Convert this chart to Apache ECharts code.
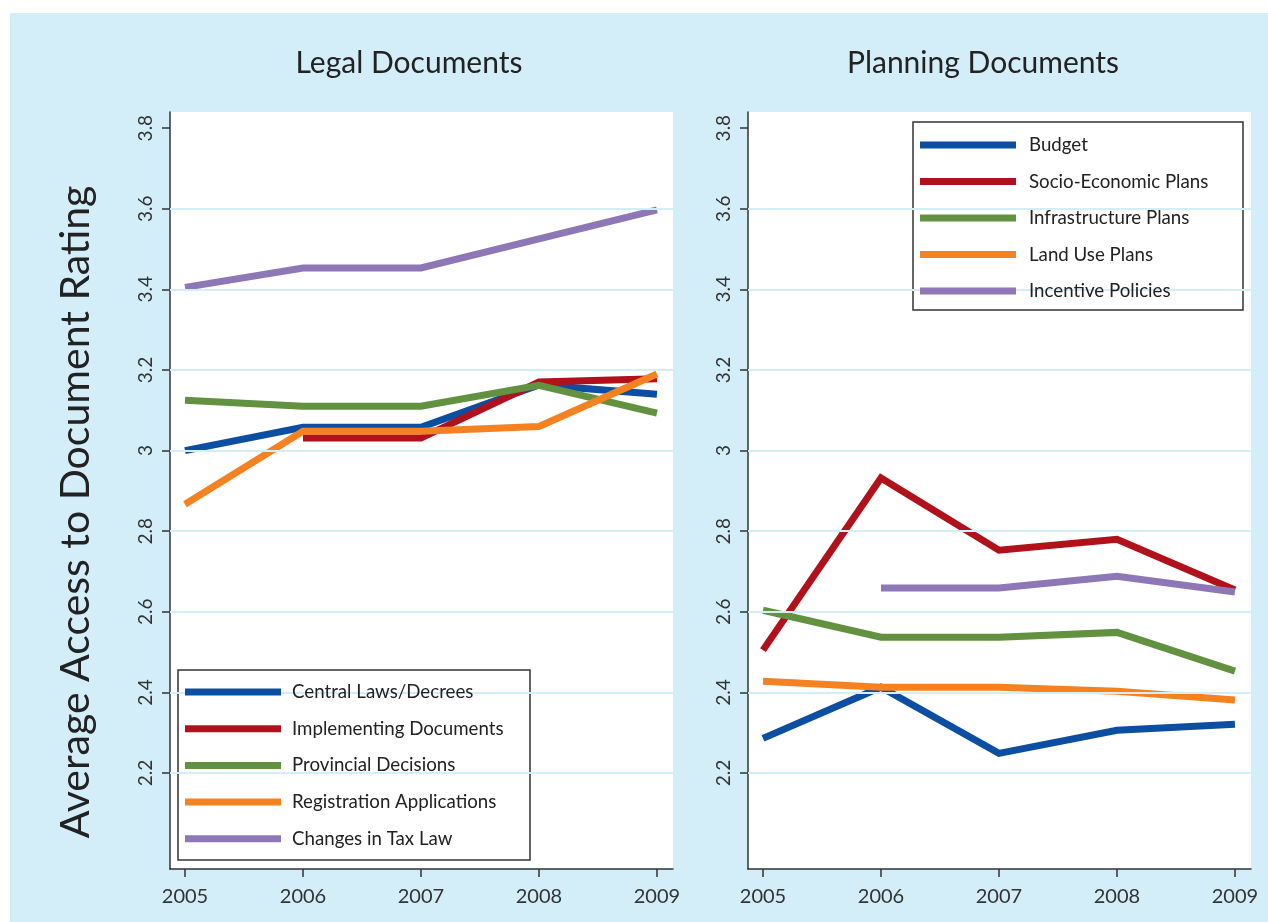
<!DOCTYPE html>
<html>
<head>
<meta charset="utf-8">
<script src="https://cdn.jsdelivr.net/npm/echarts@6/dist/echarts.min.js"></script>
<style>
html,body{margin:0;padding:0;background:#fff;}
#chart{width:1268px;height:922px;}
</style>
</head>
<body>
<div id="chart"></div>
<script>
// ---- data ----
const years = [2005, 2006, 2007, 2008, 2009];
const yTicks = [2.2, 2.4, 2.6, 2.8, 3.0, 3.2, 3.4, 3.6, 3.8];
const gridValues = [2.2, 2.4, 2.6, 2.8, 3.0, 3.2, 3.4, 3.6];

const legalNames = ['Central Laws/Decrees', 'Implementing Documents', 'Provincial Decisions', 'Registration Applications', 'Changes in Tax Law'];
const centralLaws   = [3.00, 3.058, 3.058, 3.163, 3.14];
const implementing  = [null, 3.031, 3.031, 3.17, 3.178];
const provincial    = [3.125, 3.11, 3.11, 3.162, 3.093];
const registration  = [2.867, 3.048, 3.048, 3.06, 3.19];
const taxLaw        = [3.405, 3.453, 3.453, 3.525, 3.597];

const planningNames = ['Budget', 'Socio-Economic Plans', 'Infrastructure Plans', 'Land Use Plans', 'Incentive Policies'];
const budget        = [2.286, 2.413, 2.249, 2.306, 2.321];
const socioEconomic = [2.505, 2.932, 2.753, 2.78, 2.654];
const infrastructure= [2.604, 2.537, 2.537, 2.549, 2.453];
const landUse       = [2.428, 2.413, 2.413, 2.403, 2.381];
const incentive     = [null, 2.659, 2.659, 2.688, 2.649];

const colors = ['#0b4ea2', '#b0111b', '#62913f', '#f58220', '#8e77b6'];

// ---- chart ----
const FONT = 'Lato, "Open Sans", sans-serif';
const chart = echarts.init(document.getElementById('chart'), null, {renderer: 'canvas'});

const grids = [
  {left: 170, top: 112, width: 503, height: 757},
  {left: 748, top: 112, width: 503, height: 757}
];

function xAxisFor(i) {
  return {
    type: 'value', gridIndex: i, min: 2004.873, max: 2009.136,
    axisLine: {show: true, lineStyle: {color: '#333', width: 1.5}},
    axisTick: {show: true, length: 8, lineStyle: {color: '#333', width: 1.5}, customValues: years},
    axisLabel: {customValues: years, color: '#333', fontSize: 20, fontFamily: FONT, margin: 18, formatter: v => String(v)},
    splitLine: {show: false}
  };
}
function yAxisFor(i) {
  return {
    type: 'value', gridIndex: i, min: 1.962, max: 3.84,
    axisLine: {show: true, lineStyle: {color: '#333', width: 1.5}},
    axisTick: {show: true, length: 8, lineStyle: {color: '#333', width: 1.5}, customValues: yTicks},
    axisLabel: {customValues: yTicks, color: '#333', fontSize: 19, fontFamily: FONT, rotate: 90, margin: 15,
      formatter: v => (Math.abs(v - 3) < 1e-9 ? '3' : String(Math.round(v * 10) / 10))},
    splitLine: {show: false}
  };
}

function gridSeries(i) {
  return {
    type: 'line', xAxisIndex: i, yAxisIndex: i, data: [], z: 1, silent: true,
    markLine: {
      silent: true, symbol: ['none', 'none'], label: {show: false}, animation: false,
      lineStyle: {color: '#d3eef9', width: 2, type: 'solid'},
      data: gridValues.map(v => ({yAxis: v}))
    }
  };
}

function lineSeries(name, vals, color, i) {
  return {
    name: name, type: 'line', xAxisIndex: i, yAxisIndex: i,
    data: years.map((y, k) => [y, vals[k]]),
    showSymbol: false, symbol: 'none', connectNulls: false, z: 2,
    lineStyle: {color: color, width: 7, cap: 'butt', join: 'miter'},
    itemStyle: {color: color},
    animation: false
  };
}

const legalVals = [centralLaws, implementing, provincial, registration, taxLaw];
const planVals = [budget, socioEconomic, infrastructure, landUse, incentive];

const series = [gridSeries(0), gridSeries(1)];
legalNames.forEach((n, k) => series.push(lineSeries(n, legalVals[k], colors[k], 0)));
planningNames.forEach((n, k) => series.push(lineSeries(n, planVals[k], colors[k], 1)));

function legendFor(names, left, top, gap, pad) {
  return {
    orient: 'vertical', left: left, top: top, padding: 0, itemGap: gap,
    itemWidth: 96, itemHeight: 7, icon: 'rect', z: 6,
    selectedMode: false,
    data: names.map(n => ({name: n, icon: 'rect'})),
    textStyle: {color: '#222', fontSize: 18.7, fontFamily: FONT, lineHeight: 20, padding: [0, 0, 0, pad]}
  };
}

const option = {
  backgroundColor: '#fff',
  animation: false,
  grid: grids.map(g => Object.assign({show: true, backgroundColor: '#fff', borderWidth: 0, containLabel: false}, g)),
  xAxis: [xAxisFor(0), xAxisFor(1)],
  yAxis: [yAxisFor(0), yAxisFor(1)],
  legend: [legendFor(legalNames, 185, 682, 16.7, 6), legendFor(planningNames, 920, 135, 16.5, 8)],
  graphic: [
    {type: 'rect', z: -100, silent: true, shape: {x: 10, y: 13, width: 1258, height: 909}, style: {fill: '#d3eef9'}},
    {type: 'rect', z: 3, silent: true, shape: {x: 178, y: 670, width: 352, height: 190}, style: {fill: '#fff', stroke: '#333', lineWidth: 1.5}},
    {type: 'rect', z: 3, silent: true, shape: {x: 913, y: 122, width: 330, height: 188}, style: {fill: '#fff', stroke: '#333', lineWidth: 1.5}},
    {type: 'text', z: 5, silent: true, x: 409, y: 63, style: {text: 'Legal Documents', fontSize: 30, fontFamily: FONT, fill: '#222', textAlign: 'center', textVerticalAlign: 'middle'}},
    {type: 'text', z: 5, silent: true, x: 983, y: 63, style: {text: 'Planning Documents', fontSize: 30, fontFamily: FONT, fill: '#222', textAlign: 'center', textVerticalAlign: 'middle'}},
    {type: 'text', z: 5, silent: true, x: 76, y: 512, rotation: Math.PI / 2, style: {text: 'Average Access to Document Rating', fontSize: 41, fontFamily: FONT, fill: '#222', textAlign: 'center', textVerticalAlign: 'middle'}}
  ],
  series: series
};
chart.setOption(option);
</script>
</body>
</html>
